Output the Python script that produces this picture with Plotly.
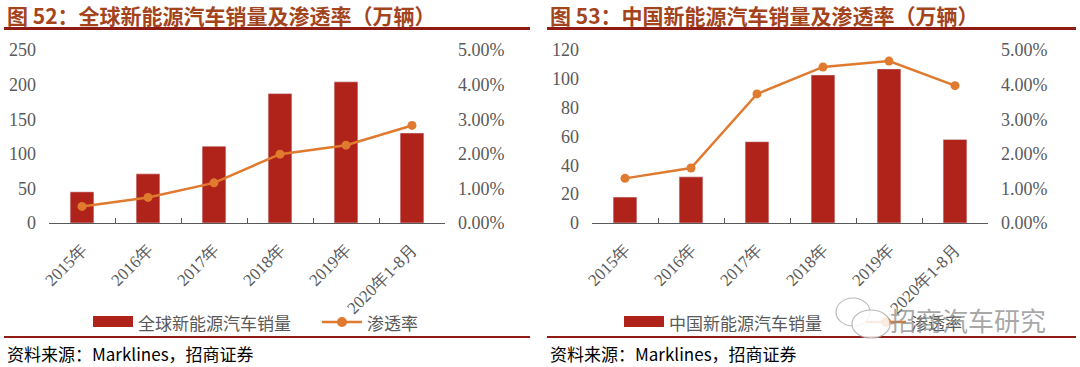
import plotly.graph_objects as go

# ---------------- data ----------------
categories = ["2015年", "2016年", "2017年", "2018年", "2019年", "2020年1-8月"]
global_sales = [45, 71, 111, 187, 204, 130]
global_penetration = [0.0048, 0.0074, 0.0116, 0.0199, 0.0225, 0.0282]
china_sales = [18.0, 32.0, 56.4, 102.7, 106.9, 58.0]
china_penetration = [0.0129, 0.0159, 0.0373, 0.0451, 0.0468, 0.0397]

title_left = "图 52：全球新能源汽车销量及渗透率（万辆）"
title_right = "图 53：中国新能源汽车销量及渗透率（万辆）"
legend_bar_left = "全球新能源汽车销量"
legend_bar_right = "中国新能源汽车销量"
legend_line = "渗透率"
source_text = "资料来源：Marklines，招商证券"
watermark = "招商汽车研究"

# ---------------- style ----------------
W, H = 1080, 367
BAR = "#B0231A"
LINE = "#DF7A2E"
GRAY = "#595959"
TITLE_C = "#A3441C"
RULE_C = "#8E1B14"
SERIF = "Liberation Serif"
SANS = "Noto Sans CJK SC"


def px(x):
    return x / W


def py(y):
    return 1 - y / H


fig = go.Figure()

fig.add_trace(go.Bar(x=categories, y=global_sales, marker_color=BAR, xaxis="x", yaxis="y",
                     showlegend=False))
fig.add_trace(go.Scatter(x=categories, y=global_penetration, mode="lines+markers",
                         line=dict(color=LINE, width=2.5), marker=dict(size=9, color=LINE),
                         xaxis="x", yaxis="y2", showlegend=False))
fig.add_trace(go.Bar(x=categories, y=china_sales, marker_color=BAR, xaxis="x2", yaxis="y3",
                     showlegend=False))
fig.add_trace(go.Scatter(x=categories, y=china_penetration, mode="lines+markers",
                         line=dict(color=LINE, width=2.5), marker=dict(size=9, color=LINE),
                         xaxis="x2", yaxis="y4", showlegend=False))

y_dom = [py(223), py(50)]
xcommon = dict(type="category", showline=True, linecolor=GRAY, linewidth=1, ticks="inside",
               tickson="boundaries", ticklen=5, tickcolor=GRAY, tickangle=-45, automargin=False,
               tickfont=dict(family=SERIF, size=17, color=GRAY), showgrid=False, zeroline=False,
               ticklabelstandoff=9)
ycommon = dict(showgrid=False, zeroline=False, showline=False, ticks="", automargin=False,
               tickfont=dict(family=SERIF, size=18, color=GRAY), domain=y_dom,
               ticklabelstandoff=12)

fig.update_layout(
    width=W, height=H, margin=dict(l=0, r=0, t=0, b=0, autoexpand=False),
    paper_bgcolor="white", plot_bgcolor="white", bargap=0.64,
    xaxis=dict(domain=[px(49), px(445)], anchor="y", **xcommon),
    yaxis=dict(range=[0, 250], dtick=50, anchor="x", **ycommon),
    yaxis2=dict(range=[0, 0.05], dtick=0.01, tickformat=".2%", overlaying="y", side="right",
                anchor="x", **ycommon),
    xaxis2=dict(domain=[px(592), px(988)], anchor="y3", **xcommon),
    yaxis3=dict(range=[0, 120], dtick=20, anchor="x2", **ycommon),
    yaxis4=dict(range=[0, 0.05], dtick=0.01, tickformat=".2%", overlaying="y3", side="right",
                anchor="x2", **ycommon),
)

shapes = []
annotations = []

# titles and rules
for x0, x1, t in [(4, 530, title_left), (547, 1076, title_right)]:
    annotations.append(dict(text="<b>%s</b>" % t, x=px(x0 + 1), y=py(15), xref="paper", yref="paper",
                            xanchor="left", yanchor="middle", showarrow=False,
                            font=dict(family=SANS, size=21, color=TITLE_C)))
    shapes.append(dict(type="line", xref="paper", yref="paper", x0=px(x0), x1=px(x1),
                       y0=py(28.5), y1=py(28.5), line=dict(color=RULE_C, width=3)))
    shapes.append(dict(type="line", xref="paper", yref="paper", x0=px(x0), x1=px(x1),
                       y0=py(337), y1=py(337), line=dict(color=RULE_C, width=2)))
    annotations.append(dict(text=source_text, x=px(x0 + 1), y=py(353), xref="paper", yref="paper",
                            xanchor="left", yanchor="middle", showarrow=False,
                            font=dict(family=SANS, size=17, color="black")))

# manual legends
def legend(xbar, bar_label, xline):
    shapes.append(dict(type="rect", xref="paper", yref="paper", x0=px(xbar), x1=px(xbar + 40),
                       y0=py(327), y1=py(316), fillcolor=BAR, line=dict(width=0)))
    annotations.append(dict(text=bar_label, x=px(xbar + 43), y=py(322), xref="paper", yref="paper",
                            xanchor="left", yanchor="middle", showarrow=False,
                            font=dict(family=SANS, size=17, color=GRAY)))
    shapes.append(dict(type="line", xref="paper", yref="paper", x0=px(xline), x1=px(xline + 40),
                       y0=py(322), y1=py(322), line=dict(color=LINE, width=2.5)))
    shapes.append(dict(type="circle", xref="paper", yref="paper", x0=px(xline + 15), x1=px(xline + 25),
                       y0=py(327), y1=py(317), fillcolor=LINE, line=dict(width=0)))
    annotations.append(dict(text=legend_line, x=px(xline + 43), y=py(322), xref="paper", yref="paper",
                            xanchor="left", yanchor="middle", showarrow=False,
                            font=dict(family=SANS, size=17, color=GRAY)))


legend(93, legend_bar_left, 322)
legend(624, legend_bar_right, 866)

# watermark (WeChat-like bubbles + text)
shapes.append(dict(type="circle", xref="paper", yref="paper", x0=px(836), x1=px(870),
                   y0=py(326), y1=py(298), fillcolor="rgba(255,255,255,0.85)",
                   line=dict(color="rgba(170,170,170,0.8)", width=1.2)))
shapes.append(dict(type="circle", xref="paper", yref="paper", x0=px(852), x1=px(890),
                   y0=py(338), y1=py(310), fillcolor="rgba(255,255,255,0.85)",
                   line=dict(color="rgba(170,170,170,0.8)", width=1.2)))
annotations.append(dict(text=watermark, x=px(888), y=py(319), xref="paper", yref="paper",
                        xanchor="left", yanchor="middle", showarrow=False,
                        font=dict(family=SANS, size=26, color="rgba(140,140,140,0.75)")))

fig.update_layout(shapes=shapes, annotations=annotations)
fig.write_html("out.html", config={"displayModeBar": False},
               post_script="document.body.style.margin='0';document.body.style.overflow='hidden';")
